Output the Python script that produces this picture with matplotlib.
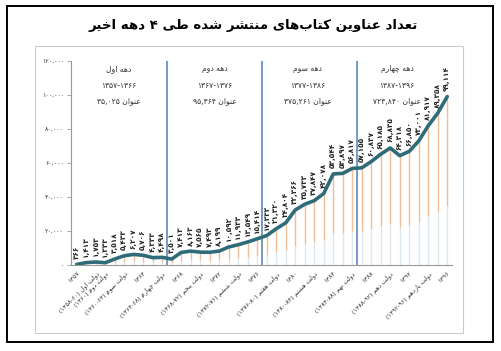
import matplotlib
matplotlib.use("Agg")
import matplotlib.pyplot as plt
from matplotlib.patches import Rectangle

plt.rcParams['font.family'] = ['DejaVu Sans']

# ---- data ----
years = list(range(1357, 1397))
titles = [366, 1413, 1753, 1333, 3518, 5433, 6207, 5706, 4333, 4498,
          3501, 7413, 8163, 7565, 7493, 8199, 10592, 11933, 13549, 15414,
          17333, 21320, 24804, 32366, 35733, 37847, 42078, 53544, 53897, 56817,
          57155, 60837, 65185, 68835, 64318, 66850, 73001, 81917, 89358, 99114]

decade_names = ['دهه اول', 'دهه دوم', 'دهه سوم', 'دهه چهارم']
decade_ranges = ['۱۳۵۷-۱۳۶۶', '۱۳۶۷-۱۳۷۶', '۱۳۷۷-۱۳۸۶', '۱۳۸۷-۱۳۹۶']
decade_totals = ['۳۵,۰۲۵', '۹۵,۳۶۴', '۳۷۵,۲۶۱', '۷۲۴,۸۴۰']
decade_centers = [4.4, 14.5, 24.3, 33.7]

tick_pos = [0, 2, 3, 5, 7, 9, 11, 13, 15, 17, 19, 21, 23, 25, 27, 29, 31, 33, 35, 37, 39]
tick_text = ['۱۳۵۷', 'دولت اول (۱۳۵۸-۶۰)', 'دولت دوم (۱۳۶۰)', 'دولت سوم (۱۳۶۰-۶۴)', '۱۳۶۴',
             'دولت چهارم (۱۳۶۴-۶۸)', '۱۳۶۸', 'دولت پنجم (۱۳۶۸-۷۲)', '۱۳۷۲',
             'دولت ششم (۱۳۷۲-۷۶)', '۱۳۷۶', 'دولت هفتم (۱۳۷۶-۸۰)', '۱۳۸۰',
             'دولت هشتم (۱۳۸۰-۸۴)', '۱۳۸۴', 'دولت نهم (۱۳۸۴-۸۸)', '۱۳۸۸',
             'دولت دهم (۱۳۸۸-۹۲)', '۱۳۹۲', 'دولت یازدهم (۱۳۹۲-۹۶)', '۱۳۹۶']

title = 'تعداد عناوین کتاب\u200cهای منتشر شده طی ۴ دهه اخیر'

# ---- tiny persian shaper (no reshaper lib available) ----
FORMS = {
    'ا': (0xFE8D, 0xFE8E), 'آ': (0xFE81, 0xFE82),
    'ب': (0xFE8F, 0xFE90, 0xFE91, 0xFE92), 'پ': (0xFB56, 0xFB57, 0xFB58, 0xFB59),
    'ت': (0xFE95, 0xFE96, 0xFE97, 0xFE98), 'ث': (0xFE99, 0xFE9A, 0xFE9B, 0xFE9C),
    'ج': (0xFE9D, 0xFE9E, 0xFE9F, 0xFEA0), 'چ': (0xFB7A, 0xFB7B, 0xFB7C, 0xFB7D),
    'ح': (0xFEA1, 0xFEA2, 0xFEA3, 0xFEA4), 'خ': (0xFEA5, 0xFEA6, 0xFEA7, 0xFEA8),
    'د': (0xFEA9, 0xFEAA), 'ذ': (0xFEAB, 0xFEAC), 'ر': (0xFEAD, 0xFEAE),
    'ز': (0xFEAF, 0xFEB0), 'ژ': (0xFB8A, 0xFB8B),
    'س': (0xFEB1, 0xFEB2, 0xFEB3, 0xFEB4), 'ش': (0xFEB5, 0xFEB6, 0xFEB7, 0xFEB8),
    'ص': (0xFEB9, 0xFEBA, 0xFEBB, 0xFEBC), 'ض': (0xFEBD, 0xFEBE, 0xFEBF, 0xFEC0),
    'ط': (0xFEC1, 0xFEC2, 0xFEC3, 0xFEC4), 'ظ': (0xFEC5, 0xFEC6, 0xFEC7, 0xFEC8),
    'ع': (0xFEC9, 0xFECA, 0xFECB, 0xFECC), 'غ': (0xFECD, 0xFECE, 0xFECF, 0xFED0),
    'ف': (0xFED1, 0xFED2, 0xFED3, 0xFED4), 'ق': (0xFED5, 0xFED6, 0xFED7, 0xFED8),
    'ک': (0xFB8E, 0xFB8F, 0xFB90, 0xFB91), 'گ': (0xFB92, 0xFB93, 0xFB94, 0xFB95),
    'ل': (0xFEDD, 0xFEDE, 0xFEDF, 0xFEE0), 'م': (0xFEE1, 0xFEE2, 0xFEE3, 0xFEE4),
    'ن': (0xFEE5, 0xFEE6, 0xFEE7, 0xFEE8), 'و': (0xFEED, 0xFEEE),
    'ه': (0xFEE9, 0xFEEA, 0xFEEB, 0xFEEC), 'ی': (0xFBFC, 0xFBFD, 0xFBFE, 0xFBFF),
}
NUM = set('۰۱۲۳۴۵۶۷۸۹0123456789,.-')


def shape(s):
    out = []
    for i, ch in enumerate(s):
        f = FORMS.get(ch)
        if f is None:
            out.append(ch)
            continue
        prev = s[i - 1] if i > 0 else ''
        nxt = s[i + 1] if i + 1 < len(s) else ''
        jp = prev in FORMS and len(FORMS[prev]) == 4
        jn = len(f) == 4 and nxt in FORMS
        if jp and jn:
            g = f[3]
        elif jp:
            g = f[1]
        elif jn:
            g = f[2]
        else:
            g = f[0]
        out.append(chr(g))
    return ''.join(out).replace('\u200c', '')


def fa(s):
    s = shape(s)
    runs = []
    for ch in s:
        isnum = ch in NUM
        if runs and runs[-1][0] == isnum:
            runs[-1][1] += ch
        else:
            runs.append([isnum, ch])
    mirror = {'(': ')', ')': '('}
    out = ''
    for isnum, t in reversed(runs):
        out += t if isnum else ''.join(mirror.get(c, c) for c in reversed(t))
    return out


def pnum(v):
    return '{:,}'.format(v).translate(str.maketrans('0123456789', '۰۱۲۳۴۵۶۷۸۹'))


# ---- figure ----
fig = plt.figure(figsize=(5.01, 3.51), dpi=100)
ax = fig.add_axes([71 / 501, 86 / 351, 381 / 501, 204 / 351])

x = list(range(len(years)))

# drop lines, orange on top fading to pale blue
ax.vlines(x, 0, [v * 0.35 for v in titles], colors='#dde8ee', lw=1.0, zorder=1)
ax.vlines(x, [v * 0.35 for v in titles], titles, colors='#f0bf98', lw=1.0, zorder=1)

# decade separators
for b in [9.5, 19.5, 29.5]:
    ax.axvline(b, color='#4f7fb5', lw=1.1, zorder=2)

ax.plot(x, titles, color='#2f6b78', lw=2.6, solid_capstyle='round', zorder=3)

for xi, v in zip(x, titles):
    ax.annotate(pnum(v), (xi, v), xytext=(0, 4), textcoords='offset points',
                rotation=90, ha='center', va='bottom', fontsize=5.2,
                color='#222222', fontweight='bold')

# decade captions
for i in range(4):
    cx = decade_centers[i]
    ax.text(cx, 115500, fa(decade_names[i]), ha='center', va='center', fontsize=5.5, color='#333333')
    ax.text(cx, 105500, fa(decade_ranges[i]), ha='center', va='center', fontsize=5.5, color='#333333')
    ax.text(cx, 96500, fa('عنوان ' + decade_totals[i]), ha='center', va='center', fontsize=5.5, color='#333333')

ax.set_xlim(-0.6, 39.5)
ax.set_ylim(0, 120000)
yt = list(range(0, 120001, 20000))
ax.set_yticks(yt)
ax.set_yticklabels([pnum(v) if v else '۰' for v in yt], fontsize=4.5, color='#333333')
ax.set_xticks(tick_pos)
ax.set_xticklabels([fa(t) for t in tick_text], rotation=45, ha='right',
                   rotation_mode='anchor', fontsize=4.6, color='#333333')
ax.tick_params(axis='x', length=0, pad=4)
ax.tick_params(axis='y', length=3, width=0.6, color='#999999', pad=2)
for s in ['top', 'right']:
    ax.spines[s].set_visible(False)
for s in ['left', 'bottom']:
    ax.spines[s].set_color('#999999')
    ax.spines[s].set_linewidth(0.8)

fig.text(0.505, 1 - 25 / 351, fa(title), ha='center', va='center', fontsize=9.6, fontweight='bold')

fig.patches.append(Rectangle((7 / 501, 9 / 351), 486 / 501, 336 / 351, transform=fig.transFigure,
                             fill=False, ec='black', lw=1.4))
fig.patches.append(Rectangle((35 / 501, 18 / 351), 428 / 501, 287 / 351, transform=fig.transFigure,
                             fill=False, ec='#cccccc', lw=0.8))

fig.savefig('out.png', dpi=100)
